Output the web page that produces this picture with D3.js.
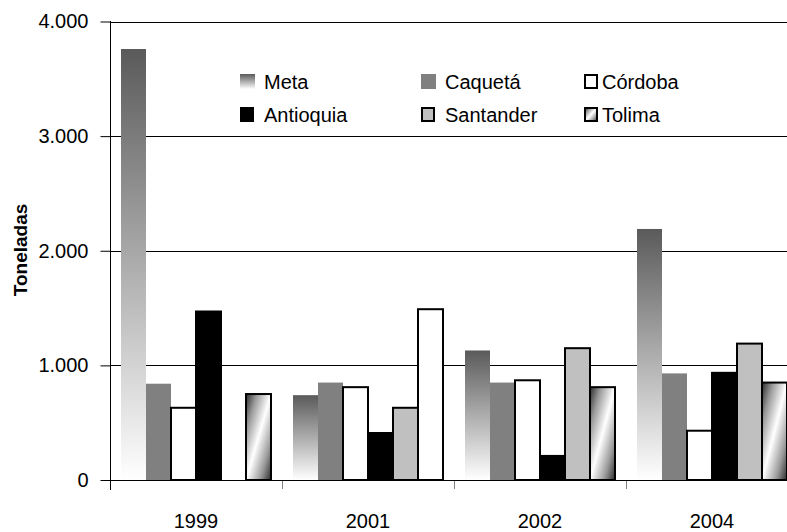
<!DOCTYPE html>
<html>
<head>
<meta charset="utf-8">
<script src="https://cdn.jsdelivr.net/npm/d3@7"></script>
<style>
  html, body { margin: 0; padding: 0; background: #fff; }
  svg { display: block; }
  text { font-family: "Liberation Sans Narrow", "Liberation Sans", Arial, sans-serif; fill: #000; }
</style>
</head>
<body>
<svg id="chart" width="787" height="532"></svg>
<script>
// ---- data ----
const years = ["1999", "2001", "2002", "2004"];
const series = ["Meta", "Caquetá", "Córdoba", "Antioquia", "Santander", "Tolima"];
const meta      = [3760, 740, 1130, 2190];
const caqueta   = [840, 850, 850, 930];
const cordoba   = [630, 810, 870, 430];
const antioquia = [1470, 410, 210, 935];
const santander = [null, 630, 1150, 1190];
const tolima    = [750, 1490, 810, 850];
const yTicks = [0, 1000, 2000, 3000, 4000];
const yTickLabels = ["0", "1.000", "2.000", "3.000", "4.000"];
const yTitle = "Toneladas";

const values = [meta, caqueta, cordoba, antioquia, santander, tolima];

// ---- drawing ----
const svg = d3.select("#chart");
const defs = svg.append("defs");

const gMeta = defs.append("linearGradient").attr("id", "gMeta")
  .attr("x1", 0).attr("y1", 0).attr("x2", 0).attr("y2", 1);
gMeta.append("stop").attr("offset", "0%").attr("stop-color", "#5a5a5a");
gMeta.append("stop").attr("offset", "100%").attr("stop-color", "#ffffff");

const gTol = defs.append("linearGradient").attr("id", "gTol")
  .attr("x1", 0).attr("y1", 0).attr("x2", 1).attr("y2", 1);
gTol.append("stop").attr("offset", "0%").attr("stop-color", "#2a2a2a");
gTol.append("stop").attr("offset", "22%").attr("stop-color", "#9a9a9a");
gTol.append("stop").attr("offset", "50%").attr("stop-color", "#ffffff");
gTol.append("stop").attr("offset", "78%").attr("stop-color", "#9a9a9a");
gTol.append("stop").attr("offset", "100%").attr("stop-color", "#2a2a2a");

const styles = {
  "Meta":      { fill: "url(#gMeta)", stroke: "none" },
  "Caquetá":   { fill: "#808080", stroke: "none" },
  "Córdoba":   { fill: "#ffffff", stroke: "#000" },
  "Antioquia": { fill: "#000000", stroke: "#000" },
  "Santander": { fill: "#c0c0c0", stroke: "#000" },
  "Tolima":    { fill: "url(#gTol)", stroke: "#000" }
};

const x0 = d3.scaleBand().domain(years).range([110, 798]).paddingInner(0).paddingOuter(0);
const x1 = d3.scaleBand().domain(series).range([11, x0.bandwidth() - 11]).padding(0);
const y = d3.scaleLinear().domain([0, 4000]).range([480, 21.5]);

// gridlines
svg.append("g").selectAll("line").data(yTicks.filter(d => d > 0)).join("line")
  .attr("x1", 110).attr("x2", 798)
  .attr("y1", d => Math.round(y(d)) + 0.5).attr("y2", d => Math.round(y(d)) + 0.5)
  .attr("stroke", "#000").attr("stroke-width", 1);

// bars
const data = [];
years.forEach((yr, i) => series.forEach((s, j) => {
  const v = values[j][i];
  if (v != null) data.push({ year: yr, series: s, value: v });
}));

svg.append("g").selectAll("rect").data(data).join("rect")
  .attr("x", d => x0(d.year) + x1(d.series))
  .attr("y", d => y(d.value))
  .attr("width", x1.bandwidth())
  .attr("height", d => y(0) - y(d.value))
  .attr("fill", d => (d.series === "Tolima" && d.year === "2001") ? "#ffffff" : styles[d.series].fill)
  .attr("stroke", d => styles[d.series].stroke)
  .attr("stroke-width", 2);

// y axis
const yAxis = d3.axisLeft(y).tickValues(yTicks)
  .tickFormat((d, i) => yTickLabels[i]).tickSize(10).tickPadding(12);
const ya = svg.append("g").attr("transform", "translate(110.5,0)").call(yAxis);
ya.select(".domain").remove();
ya.selectAll(".tick line").attr("stroke", "#000");
ya.selectAll(".tick text").style("font-size", "20px").attr("fill", "#000")
  .style("font-family", '"Liberation Sans Narrow", "Liberation Sans", Arial, sans-serif');
svg.append("line").attr("x1", 110.5).attr("x2", 110.5).attr("y1", 21).attr("y2", 490)
  .attr("stroke", "#000");

// x axis
svg.append("line").attr("x1", 110).attr("x2", 798).attr("y1", 480.5).attr("y2", 480.5)
  .attr("stroke", "#000");
const xa = d3.axisBottom(x0).tickSize(0).tickPadding(34);
const xg = svg.append("g").attr("transform", "translate(0,480)").call(xa);
xg.select(".domain").remove();
xg.selectAll(".tick text").style("font-size", "20px").attr("fill", "#000")
  .style("font-family", '"Liberation Sans Narrow", "Liberation Sans", Arial, sans-serif');
svg.append("g").selectAll("line").data(years.slice(1)).join("line")
  .attr("x1", d => Math.round(x0(d)) + 0.5).attr("x2", d => Math.round(x0(d)) + 0.5)
  .attr("y1", 481).attr("y2", 489).attr("stroke", "#808080");

// y title
svg.append("text")
  .attr("transform", "translate(27,250) rotate(-90)")
  .attr("text-anchor", "middle")
  .style("font-size", "19px").style("font-weight", "bold")
  .style("font-family", '"Liberation Sans", Arial, sans-serif')
  .text(yTitle);

// legend
const legX = [240, 421, 584];
const legRowY = [74, 107];
const leg = svg.append("g");
series.forEach((s, i) => {
  const col = i % 3, row = Math.floor(i / 3);
  const bx = legX[col], by = legRowY[row];
  const st = styles[s];
  const bordered = st.stroke !== "none";
  leg.append("rect")
    .attr("x", bordered ? bx + 1 : bx).attr("y", bordered ? by + 1 : by)
    .attr("width", bordered ? 12 : 15).attr("height", bordered ? 13 : 15)
    .attr("fill", st.fill).attr("stroke", st.stroke).attr("stroke-width", 2);
  leg.append("text")
    .attr("x", bx + (col === 2 ? 18 : 24)).attr("y", by + 15)
    .style("font-size", "20px")
    .text(s);
});
</script>
</body>
</html>
